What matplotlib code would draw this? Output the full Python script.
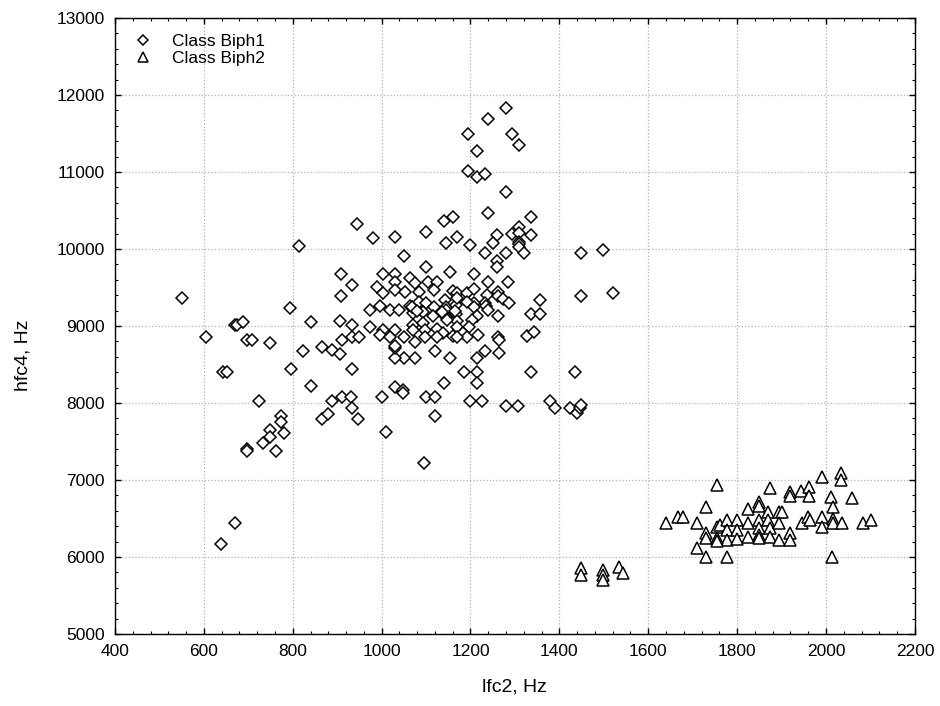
import matplotlib
matplotlib.use("Agg")
import matplotlib.pyplot as plt
from matplotlib.ticker import MultipleLocator

plt.rcParams['font.family'] = ['Liberation Sans', 'DejaVu Sans']

# Class Biph1 (lfc2, hfc4)
biph1_x = [550, 605, 670, 674, 688, 697, 708, 749, 643, 652, 724, 773, 773, 749, 749, 780, 733, 697, 697, 762,
           670, 638, 794, 841, 823, 796, 841, 866, 888, 906, 908, 933, 908, 906, 933, 911, 933, 949, 933, 888,
           911, 931, 933, 947, 866, 879, 814, 945, 980,
           1280, 1239, 1194, 1293, 1309, 1215, 1194, 1215, 1233, 1280, 1239, 1336, 1140, 1161, 1100, 1030, 1170,
           1145, 1199, 1260, 1251, 1293, 1309, 1309, 1336, 1309, 1309, 1309, 1280, 1320, 1233, 1260, 1260, 1050,
           1100, 1154, 1208, 1003, 1030, 1239, 1284, 1064, 1075, 1104, 1125, 1449, 1498,
           1030, 990, 1003, 1030, 1053, 1084, 1118, 1161, 1170, 1192, 1208, 1237, 1262, 1262, 1273, 1287, 1233,
           1208, 996, 1019, 1039, 1064, 1084, 1100, 1118, 1143, 1145, 1167, 1170, 1192, 1208, 1215, 1235, 1239,
           1262, 1071, 1093, 1116, 1145, 1145, 1167, 1170, 1147, 1170, 1203, 1197, 1071, 1093, 1071, 1098, 1125,
           1003, 996, 1030, 1019, 1138, 1161, 1183, 1192, 1217, 1262, 1327, 974, 974, 1050, 1075, 1098, 1125,
           1068, 1080, 1136, 1165, 1170,
           1449, 1520, 1356, 1336, 1356, 1343, 1264, 1264, 1233, 1215, 1154, 1120, 1075, 1050, 1030, 1030, 1030,
           1185, 1215, 1215, 1140, 1336, 1435, 1030, 1048, 1048, 1001, 1100, 1120, 1199, 1226, 1280, 1307, 1379,
           1390, 1424, 1440, 1446, 1449, 1120, 1010, 1095]
biph1_y = [9370, 8855, 9010, 9010, 9050, 8815, 8815, 8780, 8400, 8400, 8025, 7830, 7750, 7650, 7555, 7610, 7480, 7400, 7375, 7375,
           6440, 6165, 9235, 9050, 8675, 8440, 8220, 8725, 8690, 8635, 9675, 9530, 9390, 9065, 9010, 8815, 8855, 8855, 8440, 8025,
           8075, 8075, 7935, 7790, 7790, 7855, 10040, 10325, 10140,
           11830, 11690, 11495, 11495, 11350, 11270, 11015, 10935, 10975, 10740, 10465, 10415, 10365, 10415, 10220, 10155, 10155,
           10075, 10050, 10180, 10075, 10195, 10285, 10205, 10180, 10090, 10065, 10025, 9945, 9945, 9945, 9845, 9765, 9910,
           9765, 9700, 9675, 9675, 9675, 9570, 9570, 9625, 9560, 9570, 9570, 9945, 9985,
           9570, 9505, 9430, 9465, 9440, 9440, 9465, 9455, 9430, 9430, 9480, 9400, 9440, 9390, 9350, 9300, 9300,
           9300, 9260, 9205, 9205, 9260, 9310, 9300, 9245, 9335, 9245, 9270, 9365, 9310, 9245, 9130, 9260, 9205,
           9130, 9170, 9180, 9130, 9205, 9115, 9155, 9065, 9075, 8985, 9075, 8985, 9010, 9040, 8945, 8945, 8960,
           8945, 8880, 8945, 8855, 8910, 8870, 8910, 8855, 8880, 8855, 8870, 9205, 8985, 8855, 8790, 8855, 8855,
           9245, 9195, 9180, 9195, 8855,
           9390, 9430, 9335, 9155, 9155, 8920, 8815, 8650, 8675, 8585, 8585, 8675, 8585, 8585, 8585, 8715, 8740,
           8400, 8400, 8260, 8260, 8400, 8400, 8205, 8170, 8130, 8075, 8075, 8075, 8025, 8025, 7960, 7960, 8025,
           7935, 7935, 7870, 7935, 7975, 7830, 7620, 7220]

# Class Biph2 (lfc2, hfc4)
biph2_x = [1449, 1449, 1498, 1498, 1498, 1534, 1543,
           1755, 1874, 1991, 2034, 2034, 1919, 1919, 1944, 1962, 1962, 2058, 2011, 2016, 1730, 1667, 1678, 1640,
           1710, 1824, 1849, 1849, 1869, 1894, 1901, 1730, 1755, 1761, 1777, 1800, 1777, 1800, 1777, 1800, 1824,
           1824, 1849, 1849, 1849, 1849, 1869, 1874, 1874, 1894, 1894, 1919, 1919, 1946, 1959, 1964, 1991, 1991,
           2016, 2016, 2036, 2083, 2101, 1730, 1755, 1755, 1710, 1730, 1777, 2013]
biph2_y = [5855, 5765, 5830, 5765, 5700, 5870, 5790,
           6935, 6895, 7040, 7090, 7000, 6845, 6790, 6855, 6910, 6790, 6765, 6780, 6650, 6650, 6520, 6520, 6440,
           6440, 6620, 6715, 6660, 6585, 6585, 6585, 6310, 6390, 6415, 6480, 6480, 6350, 6350, 6220, 6230, 6440,
           6260, 6480, 6375, 6285, 6245, 6480, 6375, 6260, 6440, 6220, 6310, 6220, 6440, 6520, 6480, 6520, 6390,
           6490, 6440, 6440, 6440, 6480, 6245, 6245, 6205, 6115, 6000, 6000, 6000]

x_ticks = [400, 600, 800, 1000, 1200, 1400, 1600, 1800, 2000, 2200]
y_ticks = [5000, 6000, 7000, 8000, 9000, 10000, 11000, 12000, 13000]

fig = plt.figure(figsize=(9.4, 7.06), dpi=100)
ax = fig.add_axes([0.1223, 0.102, 0.851, 0.8725])

ax.plot(biph1_x, biph1_y, linestyle='none', marker='D', ms=6.3, mfc='white', mec='black', mew=1.1,
        label='Class Biph1', zorder=3)
ax.plot(biph2_x, biph2_y, linestyle='none', marker='^', ms=9, mfc='white', mec='black', mew=1.1,
        label='Class Biph2', zorder=3)

ax.set_xlim(400, 2200)
ax.set_ylim(5000, 13000)
ax.set_xticks(x_ticks)
ax.set_yticks(y_ticks)
ax.xaxis.set_minor_locator(MultipleLocator(40))
ax.yaxis.set_minor_locator(MultipleLocator(200))
ax.tick_params(which='both', direction='in', top=True, right=True, labelsize=12.5, colors='black')
ax.tick_params(which='major', length=4, width=1, pad=7.5)
ax.tick_params(which='minor', length=2.5, width=0.8)
ax.grid(True, which='major', linestyle=':', color='#b0b0b0', linewidth=0.9)
ax.set_axisbelow(True)
for s in ax.spines.values():
    s.set_linewidth(1.0)

ax.set_xlabel('lfc2, Hz', fontsize=14, labelpad=14)
ax.set_ylabel('hfc4, Hz', fontsize=14, labelpad=18, y=0.453)

leg = ax.legend(loc='upper left', bbox_to_anchor=(0.0, 0.991), frameon=False, fontsize=12.5,
                handletextpad=0.7, borderaxespad=0.2, labelspacing=0.12, markerscale=0.85)

fig.savefig('out.png', dpi=100)
